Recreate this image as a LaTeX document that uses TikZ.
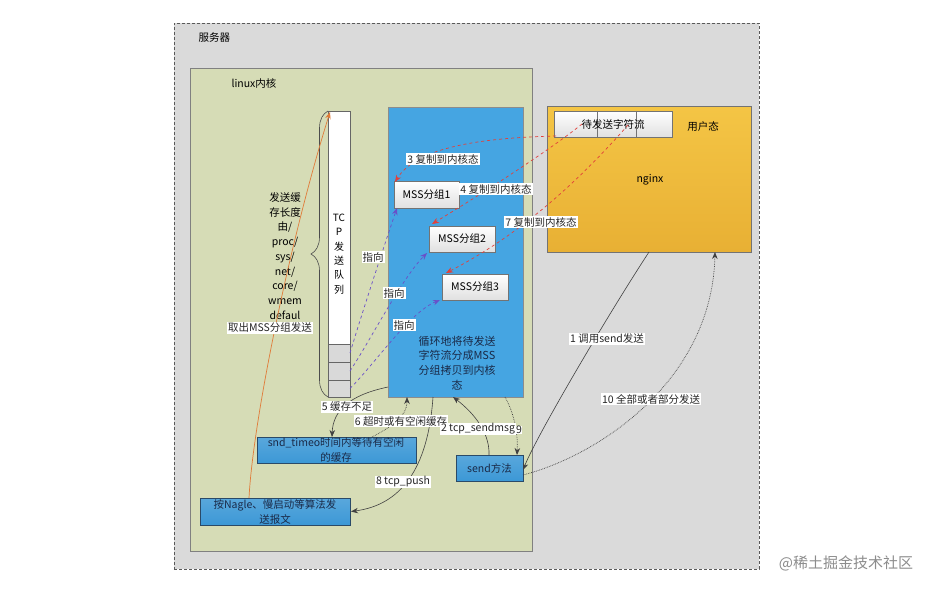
\documentclass[tikz,border=0pt]{standalone}
\usepackage{fontspec}
\setmainfont{Noto Sans CJK SC}
\usetikzlibrary{arrows.meta,decorations.pathreplacing,calc}
\definecolor{servergray}{HTML}{DADADA}
\definecolor{kernelgreen}{HTML}{D6DCB6}
\definecolor{bigblue}{HTML}{45A5E2}
\definecolor{smallblue}{HTML}{3C98D6}
\definecolor{bdblue}{HTML}{2A4A68}
\definecolor{navy}{HTML}{1A2A48}
\definecolor{usertop}{HTML}{F4C545}
\definecolor{userbot}{HTML}{E8B034}
\definecolor{arrred}{HTML}{E2403A}
\definecolor{arrpurple}{HTML}{6A4FC8}
\definecolor{arrorange}{HTML}{E07B39}
\definecolor{arrdark}{HTML}{404040}
\begin{document}
\begin{tikzpicture}[x=1pt,y=-1pt,
  font=\fontsize{10.5}{12}\selectfont,
  box/.style={anchor=north west, inner sep=0pt, outer sep=0pt},
  bluebox/.style={box, draw=bdblue, line width=0.7pt, top color=smallblue!85!white, bottom color=smallblue},
  whitebox/.style={box, draw=black!55, top color=white, bottom color=black!12},
  twoline/.style={align=center, text=navy, font=\fontsize{10.5}{15}\selectfont},
  lbl/.style={fill=white, inner sep=1pt, text=black!85, font=\fontsize{10.5}{12}\selectfont},
  redarr/.style={draw=arrred, dashed, line width=0.7pt, -{Stealth[length=7pt,width=5.5pt]}},
  purarr/.style={draw=arrpurple, dashed, line width=0.7pt, -{Stealth[length=7pt,width=5.5pt]}},
  darr/.style={draw=arrdark, line width=0.6pt, -{Stealth[length=7pt,width=5.5pt]}},
  dotarr/.style={draw=arrdark, densely dotted, line width=0.7pt, -{Stealth[length=7pt,width=5.5pt]}}]
\useasboundingbox (0,0) rectangle (945,594);
\fill[white] (0,0) rectangle (945,594);
% server
\node[box, draw=black!65, densely dashed, fill=servergray, minimum width=585pt, minimum height=546pt] (server) at (174,23) {};
\node[anchor=west] (serverlbl) at (195,38) {服务器};
% kernel
\node[box, draw=black!50, fill=kernelgreen, minimum width=342pt, minimum height=483pt] (kernel) at (190,68) {};
\node (kernellbl) at (254,83) {linux内核};
% queue
\node[box, draw=black!60, fill=white, minimum width=22pt, minimum height=286pt] (queue) at (328,111) {};
\node[box, draw=black!60, fill=black!15, minimum width=22pt, minimum height=18pt] (c1) at (328,344) {};
\node[box, draw=black!60, fill=black!15, minimum width=22pt, minimum height=18pt] (c2) at (328,362) {};
\node[box, draw=black!60, fill=black!15, minimum width=22pt, minimum height=17pt] (c3) at (328,380) {};
\node[align=center, font=\fontsize{10}{14.4}\selectfont] (queuetxt) at (339,254) {TC\\P\\发\\送\\队\\列};
\draw[black!70, line width=0.6pt, decorate, decoration={brace, amplitude=17pt}] (queue.south west) -- (queue.north west);
\node[align=center, font=\fontsize{10.5}{14.75}\selectfont] (buftxt) at (285,256) {发送缓\\存长度\\由/\\proc/\\sys/\\net/\\core/\\wmem\\defaul};
% big blue box
\node[box, draw=black!45, fill=bigblue, minimum width=135pt, minimum height=290pt] (blue) at (388,107) {};
\node[align=center, text=navy, font=\fontsize{11}{14.7}\selectfont] (bluetxt) at (457,363) {循环地将待发送\\字符流分成MSS\\分组拷贝到内核\\态};
\node[whitebox, minimum width=65pt, minimum height=27pt] (mss1) at (394,181) {MSS分组1};
\node[whitebox, minimum width=66pt, minimum height=26pt] (mss2) at (429,226) {MSS分组2};
\node[whitebox, minimum width=66pt, minimum height=26pt] (mss3) at (442,274) {MSS分组3};
% user space
\node[box, draw=black!55, top color=usertop, bottom color=userbot, minimum width=204pt, minimum height=146pt] (user) at (547,106) {};
\node (userlbl) at (703,127) {用户态};
\node (nginx) at (650,180) {nginx};
\node[whitebox, minimum width=43pt, minimum height=26pt] (str1) at (554,111) {};
\node[whitebox, minimum width=39pt, minimum height=26pt] (str2) at (597,111) {};
\node[whitebox, minimum width=36pt, minimum height=26pt] (str3) at (636,111) {};
\node (strtxt) at (613,124) {待发送字符流};
% small blue boxes
\node[bluebox, minimum width=159pt, minimum height=26pt] (snd) at (257,437) {};
\node[twoline] (sndtxt) at (336,450) {snd\_timeo时间内等待有空闲\\的缓存};
\node[bluebox, minimum width=150pt, minimum height=27pt] (nagle) at (200,498) {};
\node[twoline] (nagletxt) at (275,512) {按Nagle、慢启动等算法发\\送报文};
\node[bluebox, minimum width=67pt, minimum height=26pt] (send) at (456,455) {};
\node[text=navy] (sendtxt) at (send.center) {send方法};
% orange arrow
\draw[draw=arrorange, line width=0.7pt, -{Stealth[length=7pt,width=5.5pt]}] ($(nagle.north west)+(49,0)$) .. controls +(4,-78) and +(-40,128) .. ($(queue.north west)+(2,1)$);
\node[lbl] (takelbl) at (270,328) {取出MSS分组发送};
% purple
\draw[purarr] (c1.east) .. controls +(12,-40) and +(-12,35) .. ($(mss1.south west)+(3,0)$);
\draw[purarr] (c2.east) .. controls +(20,-30) and +(-25,25) .. ($(mss2.south west)+(-2,1)$);
\draw[purarr] (c3.east) .. controls +(25,-25) and +(-30,12) .. ($(mss3.south west)+(-2,0)$);
\node[lbl] (p1lbl) at (373,257) {指向};
\node[lbl] (p2lbl) at (394,293) {指向};
\node[lbl] (p3lbl) at (404,325) {指向};
% red
\draw[redarr] ($(str1.south west)+(2,-1)$) .. controls +(-86,2) and +(20,-32) .. ($(mss1.north west)+(1,1)$);
\draw[redarr] ($(str1.north west)+(28,13)$) .. controls +(-32,26) and +(48,-29) .. ($(mss2.north west)+(3,-2)$);
\draw[redarr] ($(str2.north west)+(31,14)$) .. controls +(-48,55) and +(74,-38) .. ($(mss3.north west)+(4,-1)$);
\node[lbl] (r3lbl) at (443,159) {3 复制到内核态};
\node[lbl] (r4lbl) at (496,189) {4 复制到内核态};
\node[lbl] (r7lbl) at (541,222) {7 复制到内核态};
% dark arrows
\draw[darr] ($(blue.south west)+(0,-10)$) .. controls +(-38,8) and +(1,-27) .. ($(snd.north west)+(75,0)$);
\draw[dotarr] ($(snd.north west)+(115,0)$) .. controls +(23,-12) and +(0,18) .. ($(blue.south west)+(19,0)$);
\draw[darr] ($(send.north west)+(33,0)$) .. controls +(1,-25) and +(17,13) .. ($(blue.south west)+(65,0)$);
\draw[dotarr] ($(blue.south east)+(-18,0)$) .. controls +(10,18) and +(1,-20) .. ($(send.north east)+(-6,0)$);
\draw[darr] ($(blue.south west)+(45,0)$) .. controls +(-5,73) and +(49,-6.5) .. ($(nagle.east)+(1,0)$);
\draw[darr] ($(user.south west)+(102,0)$) .. controls +(-40,61) and +(14,-35) .. ($(send.east)+(0,2)$);
\draw[dotarr] ($(send.south east)+(0,-6)$) .. controls +(77,-20) and +(-3,128) .. ($(user.south west)+(168,0)$);
\node[lbl] (l5) at (347,407) {5 缓存不足};
\node[lbl] (l6) at (401,421) {6 超时或有空闲缓存};
\node[lbl] (l2) at (478,429) {2 tcp\_sendmsg};
\node[lbl, inner sep=0.5pt] (l9) at (519,430) {9};
\node[lbl] (l8) at (403,482) {8 tcp\_push};
\node[lbl] (l1) at (607,339) {1 调用send发送};
\node[lbl] (l10) at (651,399) {10 全部或者部分发送};
% watermark
\node[text=black!45, font=\fontsize{15}{18}\selectfont] (wm) at (846,563) {@稀土掘金技术社区};
\end{tikzpicture}
\end{document}
